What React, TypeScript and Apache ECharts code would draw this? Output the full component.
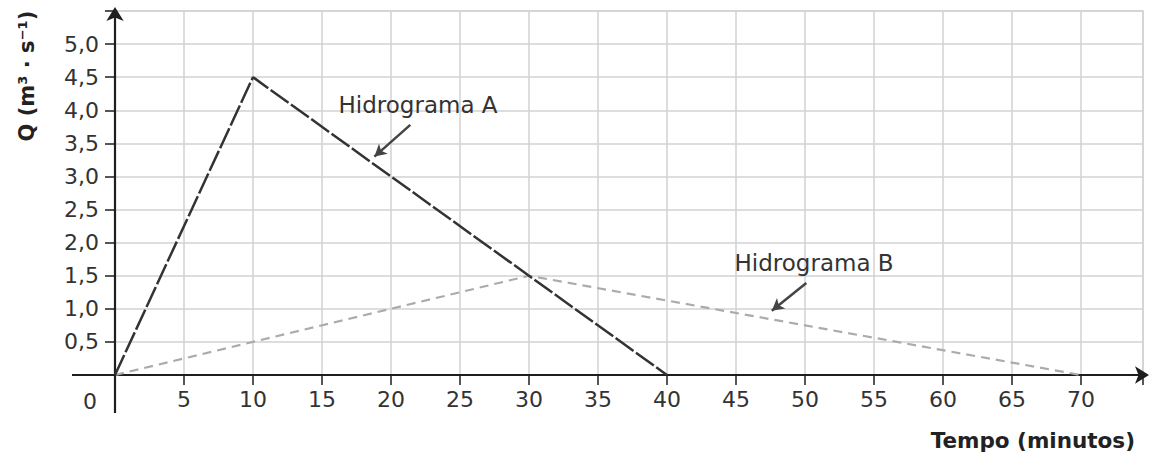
import React, { useEffect, useRef } from "react";
import * as echarts from "echarts";

const minutesA = [0, 10, 40];
const flowA = [0, 4.5, 0];
const minutesB = [0, 30, 70];
const flowB = [0, 1.5, 0];

const xMin = 0;
const xMax = 74.5;
const xInterval = 5;
const yMin = 0;
const yMax = 5.5;
const yInterval = 0.5;

const labelA = "Hidrograma A";
const labelB = "Hidrograma B";
const xTitle = "Tempo (minutos)";
const yTitle = "Q (m³ · s⁻¹)";

const FONT = "'DejaVu Sans', Verdana, sans-serif";

export default function App() {
  const ref = useRef<HTMLDivElement>(null);
  useEffect(() => {
    if (!ref.current) return;
    const chart = echarts.init(ref.current, null, { renderer: "svg" });
    const axisColor = "#1e1e1e";
    const gridColor = "#d2d2d2";
    chart.setOption({
      animation: false,
      backgroundColor: "#ffffff",
      grid: {
        left: 115,
        right: 12,
        top: 11,
        bottom: 79,
        show: true,
        borderColor: gridColor,
        borderWidth: 1.5,
      },
      xAxis: {
        type: "value",
        min: xMin,
        max: xMax,
        interval: xInterval,
        axisLine: {
          show: true,
          symbol: ["none", "arrow"],
          symbolSize: [13, 14],
          symbolOffset: [0, 6],
          lineStyle: { color: axisColor, width: 2.2 },
        },
        axisTick: { show: true, length: 10, lineStyle: { color: axisColor, width: 1.5 } },
        axisLabel: {
          color: "#333",
          fontFamily: FONT,
          fontSize: 22,
          margin: 13,
          formatter: (v: number) => (v === 0 || v % 5 !== 0 ? "" : String(v)),
        },
        splitLine: { show: true, lineStyle: { color: gridColor, width: 1.5 } },
      },
      yAxis: {
        type: "value",
        min: yMin,
        max: yMax,
        interval: yInterval,
        axisLine: {
          show: true,
          symbol: ["none", "arrow"],
          symbolSize: [13, 14],
          symbolOffset: [0, 4],
          lineStyle: { color: axisColor, width: 2.2 },
        },
        axisTick: { show: true, length: 10, lineStyle: { color: axisColor, width: 1.5 } },
        axisLabel: {
          color: "#333",
          fontFamily: FONT,
          fontSize: 22,
          margin: 16,
          formatter: (v: number) =>
            v === 0 || v > 5.01 ? "" : v.toFixed(1).replace(".", ","),
        },
        splitLine: { show: true, lineStyle: { color: gridColor, width: 1.5 } },
      },
      series: [
        {
          name: labelB,
          type: "line",
          data: minutesB.map((m, i) => [m, flowB[i]]),
          symbol: "none",
          lineStyle: { color: "#ababab", width: 2.2, type: [9, 6] },
          z: 3,
          markLine: {
            silent: true,
            symbol: ["none", "arrow"],
            symbolSize: [10, 12],
            label: { show: false },
            lineStyle: { type: "solid", color: "#444", width: 2.5 },
            data: [[{ coord: [50.1, 1.39] }, { coord: [47.6, 0.97] }]],
          },
        },
        {
          name: labelA,
          type: "line",
          data: minutesA.map((m, i) => [m, flowA[i]]),
          symbol: "none",
          lineStyle: { color: "#333", width: 2.5, type: [22, 3] },
          z: 4,
          markLine: {
            silent: true,
            symbol: ["none", "arrow"],
            symbolSize: [10, 12],
            label: { show: false },
            lineStyle: { type: "solid", color: "#444", width: 2.5 },
            data: [[{ coord: [21.4, 3.78] }, { coord: [18.8, 3.3] }]],
          },
        },
      ],
    });

    const p0 = chart.convertToPixel({ gridIndex: 0 }, [0, 0]) as number[];
    const pA = chart.convertToPixel({ gridIndex: 0 }, [16.2, 4.08]) as number[];
    const pB = chart.convertToPixel({ gridIndex: 0 }, [44.9, 1.69]) as number[];

    chart.setOption({
      graphic: [
        {
          type: "line",
          shape: { x1: p0[0] - 43, y1: p0[1], x2: p0[0], y2: p0[1] },
          style: { stroke: axisColor, lineWidth: 2.2 },
          z: 10,
        },
        {
          type: "line",
          shape: { x1: p0[0], y1: p0[1], x2: p0[0], y2: p0[1] + 38 },
          style: { stroke: axisColor, lineWidth: 2.2 },
          z: 10,
        },
        {
          type: "text",
          x: p0[0] - 25,
          y: p0[1] + 26,
          style: {
            text: "0",
            fill: "#333",
            font: `22px ${FONT}`,
            textAlign: "center",
            textVerticalAlign: "middle",
          },
        },
        {
          type: "text",
          x: pA[0],
          y: pA[1],
          style: {
            text: labelA,
            fill: "#333",
            font: `23px ${FONT}`,
            textAlign: "left",
            textVerticalAlign: "middle",
          },
          z: 10,
        },
        {
          type: "text",
          x: pB[0],
          y: pB[1],
          style: {
            text: labelB,
            fill: "#333",
            font: `23px ${FONT}`,
            textAlign: "left",
            textVerticalAlign: "middle",
          },
          z: 10,
        },
        {
          type: "text",
          x: 1135,
          y: 440,
          style: {
            text: xTitle,
            fill: "#222",
            font: `bold 21.5px ${FONT}`,
            textAlign: "right",
            textVerticalAlign: "middle",
          },
        },
        {
          type: "text",
          x: 27,
          y: 76,
          rotation: Math.PI / 2,
          style: {
            text: yTitle,
            fill: "#222",
            font: `bold 21px ${FONT}`,
            textAlign: "center",
            textVerticalAlign: "middle",
          },
        },
      ],
    });

    return () => chart.dispose();
  }, []);
  return (
    <div
      ref={ref}
      style={{ position: "fixed", left: 0, top: 0, width: 1155, height: 454 }}
    />
  );
}
